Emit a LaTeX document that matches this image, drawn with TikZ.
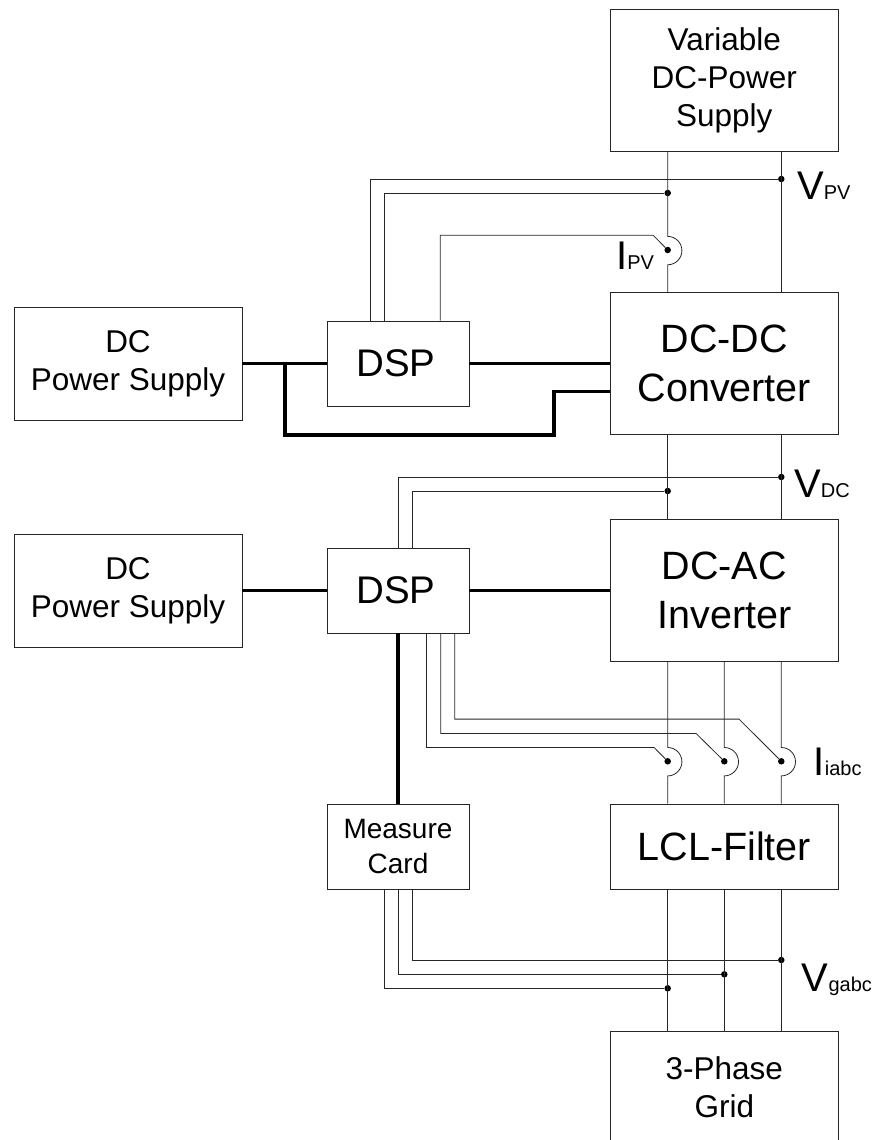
\documentclass[tikz,border=0pt]{standalone}
\usepackage{fontspec}
\setmainfont{Liberation Sans}
\newcommand{\fs}[2]{\fontsize{#1}{#2}\selectfont}
\newcommand{\vlab}[2]{{\fs{40}{40}#1}{\fs{20}{20}#2}}
\tikzset{
  block/.style={draw=black!85,line width=0.8pt,inner sep=0pt,align=center,text=black},
  bigtext/.style={font=\fs{39.5}{49}},
  dsptext/.style={font=\fs{38.5}{49}},
  midtext/.style={font=\fs{31.5}{38}},
  smalltext/.style={font=\fs{28}{35}},
  wire/.style={draw=black!85,line width=0.8pt},
  bus/.style={draw=black,line width=3.4pt},
  dotnode/.style={circle,fill=black,inner sep=0pt,minimum size=6.5pt},
  lab/.style={anchor=base west,inner sep=0pt,text=black}
}
\begin{document}
\begin{tikzpicture}[x=1pt,y=-1pt]
\useasboundingbox (0,0) rectangle (871,1140);
% blocks
\node[block,midtext,minimum width=227.5pt,minimum height=142pt] (vdc) at (724.3,80) {Variable\\DC-Power\\Supply};
\node[block,bigtext,minimum width=227.5pt,minimum height=141.5pt] (dcdc) at (724.3,363.5) {DC-DC\\Converter};
\node[block,bigtext,minimum width=227.5pt,minimum height=142pt] (dcac) at (724.3,590.5) {DC-AC\\Inverter};
\node[block,bigtext,minimum width=227.5pt,minimum height=85pt] (lcl) at (724.3,846.5) {LCL-Filter};
\node[block,midtext,minimum width=227.5pt,minimum height=113pt] (grid) at (724.3,1087.5) {3-Phase\\Grid};
\node[block,midtext,minimum width=228pt,minimum height=113pt] (ps1) at (128,363.5) {DC\\Power Supply};
\node[block,midtext,minimum width=228pt,minimum height=113pt] (ps2) at (128,590.5) {DC\\Power Supply};
\node[block,dsptext,minimum width=142pt,minimum height=85pt] (dsp1) at (398,363.5) {DSP\kern4pt};
\node[block,dsptext,minimum width=142pt,minimum height=85pt] (dsp2) at (398,590.5) {DSP\kern4pt};
\node[block,smalltext,minimum width=142pt,minimum height=85pt] (mc) at (398,846.5) {Measure\\Card};
% junctions
\node[dotnode] (vpvb) at (781.3,179) {};
\node[dotnode] (vpva) at (667.7,193) {};
\node[dotnode] (ipv) at (667.7,250) {};
\node[dotnode] (vdcb) at (781.3,477) {};
\node[dotnode] (vdca) at (667.7,491) {};
\node[dotnode] (ia) at (667.7,761.3) {};
\node[dotnode] (ib) at (724.3,761.3) {};
\node[dotnode] (ic) at (781.3,761.3) {};
\node[dotnode] (vgc) at (781.3,960) {};
\node[dotnode] (vgb) at (724.3,974.3) {};
\node[dotnode] (vga) at (667.7,988.3) {};
% power lines
\draw[wire] (vdc.south -| ipv) -- ++(0,85) arc (-90:90:14.2) -- (dcdc.north -| ipv);
\draw[wire] (vdc.south -| vpvb) -- (dcdc.north -| vpvb);
\draw[wire] (dcdc.south -| ipv) -- (dcac.north -| ipv);
\draw[wire] (dcdc.south -| vpvb) -- (dcac.north -| vpvb);
\draw[wire] (dcac.south -| ia) -- ++(0,85.6) arc (-90:90:14.2) -- (lcl.north -| ia);
\draw[wire] (dcac.south -| ib) -- ++(0,85.6) arc (-90:90:14.2) -- (lcl.north -| ib);
\draw[wire] (dcac.south -| ic) -- ++(0,85.6) arc (-90:90:14.2) -- (lcl.north -| ic);
\draw[wire] (lcl.south -| ia) -- (grid.north -| ia);
\draw[wire] (lcl.south -| ib) -- (grid.north -| ib);
\draw[wire] (lcl.south -| ic) -- (grid.north -| ic);
% sense wires
\draw[wire] ([xshift=-28pt]dsp1.north) |- (vpvb);
\draw[wire] ([xshift=-14pt]dsp1.north) |- (vpva);
\draw[wire] ([xshift=42.3pt]dsp1.north) |- ++(212.9,-85.3) -- (ipv);
\draw[wire] (dsp2.north) |- (vdcb);
\draw[wire] ([xshift=14.2pt]dsp2.north) |- (vdca);
\draw[wire] ([xshift=28.5pt]dsp2.south) |- ++(227.5,114) -- (ia);
\draw[wire] ([xshift=42.7pt]dsp2.south) |- ++(255.3,100) -- (ib);
\draw[wire] ([xshift=56.7pt]dsp2.south) |- ++(284.3,85.7) -- (ic);
\draw[wire] ([xshift=14.3pt]mc.south) |- (vgc);
\draw[wire] (mc.south) |- (vgb);
\draw[wire] ([xshift=-14pt]mc.south) |- (vga);
% buses
\draw[bus] (ps1.east) -- (dsp1.west);
\draw[bus] (dsp1.east) -- (dcdc.west);
\coordinate (tap) at (285,363.5);
\coordinate (ctl) at (dcdc.west |- 0,391.7);
\draw[bus,line join=miter] (tap) -- (285,435) -- (554,435) -- (554,391.7) -- (ctl);
\draw[bus] (ps2.east) -- (dsp2.west);
\draw[bus] (dsp2.east) -- (dcac.west);
\draw[bus] (dsp2.south) -- (mc.north);
% labels
\node[lab] (lvpv) at (797,199) {\vlab{V}{PV}};
\node[lab] (lipv) at (616,269.3) {\vlab{I}{PV}};
\node[lab] (lvdc) at (794,497) {\vlab{V}{DC}};
\node[lab] (liabc) at (813.5,775) {\vlab{I}{iabc}};
\node[lab] (lvg) at (801.7,991) {\vlab{V}{gabc}};
\end{tikzpicture}
\end{document}
